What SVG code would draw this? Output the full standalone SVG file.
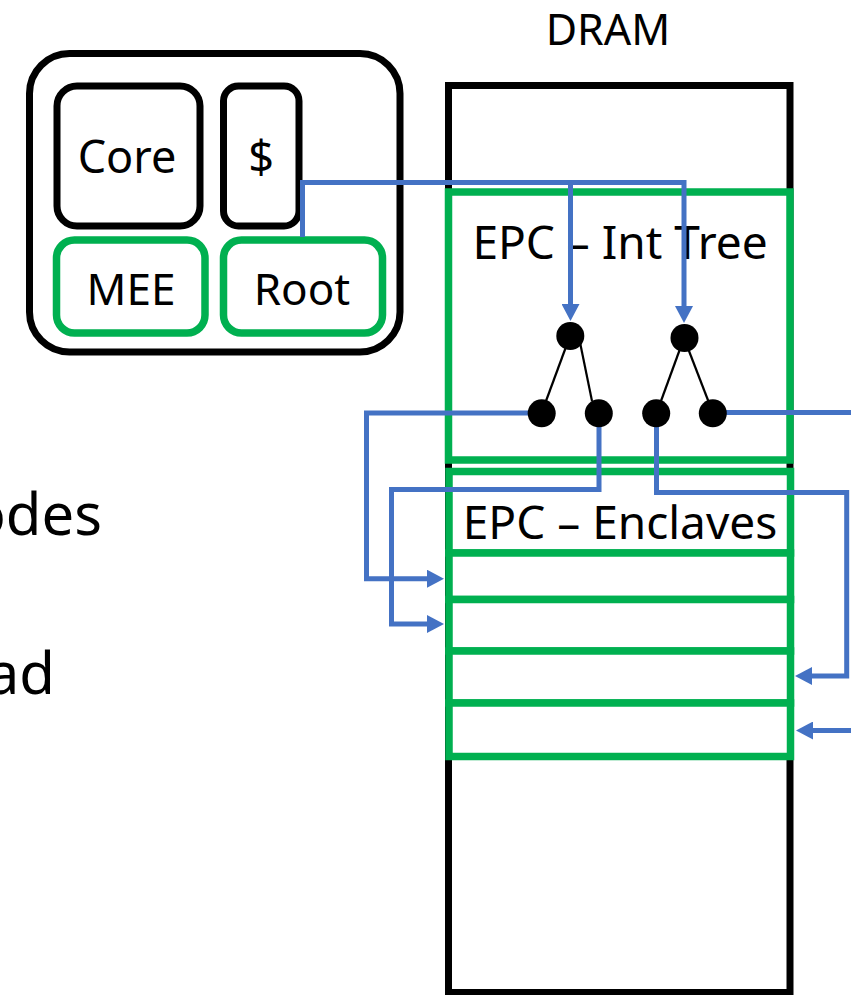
<svg xmlns="http://www.w3.org/2000/svg" width="851" height="995" viewBox="0 0 851 995">
<defs>
<style>
.t{font-family:"Noto Sans","Open Sans","DejaVu Sans",sans-serif;fill:#000}
.blk{fill:#fff;stroke:#000;stroke-width:7}
.grn{fill:#fff;stroke:#00B050;stroke-width:7.5}
.con{fill:none;stroke:#4472C4;stroke-width:5}
.edge{stroke:#000;stroke-width:2.2}
</style>
<marker id="ah" markerUnits="userSpaceOnUse" markerWidth="18" markerHeight="18" refX="0" refY="9" orient="auto">
<path d="M0,0 L17,9 L0,18 Z" fill="#4472C4"/>
</marker>
</defs>
<rect width="851" height="995" fill="#fff"/>

<g id="side-text">
<text class="t" x="102" y="535" font-size="58" text-anchor="end">odes</text>
<text class="t" x="55" y="694" font-size="58" text-anchor="end">ad</text>
</g>

<g id="chip">
<rect class="blk" x="29.5" y="53.5" width="370.5" height="298.5" rx="40"/>
<g id="core"><rect class="blk" x="57" y="86" width="143" height="140" rx="20"/>
<text class="t" x="127" y="173" font-size="45" text-anchor="middle">Core</text></g>
<g id="cache"><rect class="blk" x="223.5" y="86" width="75.5" height="140" rx="15"/>
<text class="t" x="261" y="173" font-size="45" text-anchor="middle">$</text></g>
<g id="mee"><rect class="grn" x="56.5" y="240" width="148.5" height="93" rx="18"/>
<text class="t" x="131" y="305" font-size="44" text-anchor="middle">MEE</text></g>
<g id="root"><rect class="grn" x="223.5" y="240" width="159" height="93" rx="18"/>
<text class="t" x="302" y="305" font-size="44" text-anchor="middle">Root</text></g>
</g>

<g id="dram">
<text class="t" x="608" y="45" font-size="43" text-anchor="middle">DRAM</text>
<rect class="blk" x="448.5" y="85.5" width="341.5" height="907"/>
</g>

<g id="epc-int-tree">
<rect class="grn" x="448.5" y="192" width="341.5" height="268"/>
<text class="t" x="620" y="259" font-size="46" text-anchor="middle">EPC – Int Tree</text>
</g>

<g id="epc-enclaves">
<rect class="grn" x="449" y="471.5" width="341.5" height="81.5"/>
<text class="t" x="620" y="539" font-size="46" text-anchor="middle">EPC – Enclaves</text>
</g>
<g id="enclave-1"><rect class="grn" x="449" y="553" width="341.5" height="46.5"/></g>
<g id="enclave-2"><rect class="grn" x="449" y="599.5" width="341.5" height="51.5"/></g>
<g id="enclave-3"><rect class="grn" x="449" y="651" width="341.5" height="52"/></g>
<g id="enclave-4"><rect class="grn" x="449" y="703" width="341.5" height="53.5"/></g>

<g id="connectors">
<path class="con" d="M302.5,237 V182.5 H684 V306" marker-end="url(#ah)"/>
<path class="con" d="M570.5,182.5 V304" marker-end="url(#ah)"/>
<path class="con" d="M542,413 H366.5 V578.7 H427" marker-end="url(#ah)"/>
<path class="con" d="M599,413 V489.5 H391.5 V624 H427" marker-end="url(#ah)"/>
<path class="con" d="M656.5,413 V492.5 H846.7 V676 H812" marker-end="url(#ah)"/>
<path class="con" d="M713,412.5 H856"/>
<path class="con" d="M856,730.5 H813" marker-end="url(#ah)"/>
</g>

<g id="tree">
<line class="edge" x1="570" y1="336" x2="546" y2="401"/>
<line class="edge" x1="578.7" y1="336" x2="592" y2="401"/>
<line class="edge" x1="684" y1="338" x2="661" y2="401"/>
<line class="edge" x1="684" y1="338" x2="708.3" y2="401"/>
<g id="node-l"><circle cx="570.3" cy="336" r="14"/></g>
<g id="node-r"><circle cx="684.5" cy="338" r="14"/></g>
<g id="leaf-1"><circle cx="541.7" cy="413.3" r="14"/></g>
<g id="leaf-2"><circle cx="598.8" cy="413.3" r="14"/></g>
<g id="leaf-3"><circle cx="656.2" cy="413.3" r="14"/></g>
<g id="leaf-4"><circle cx="712.8" cy="413.3" r="14"/></g>
</g>
</svg>
